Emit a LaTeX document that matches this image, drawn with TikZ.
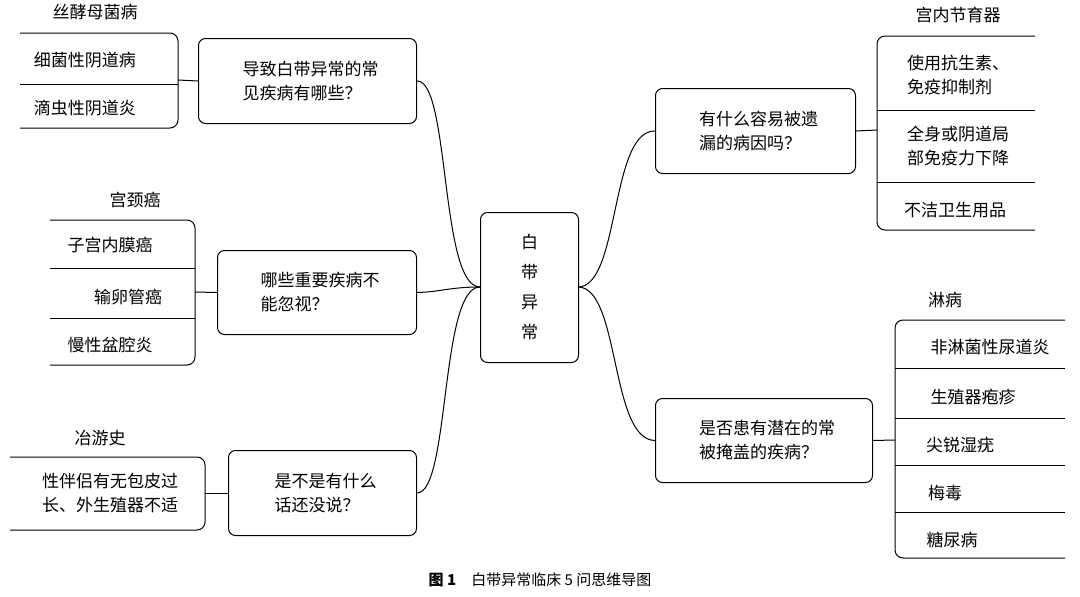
\documentclass[tikz,border=0pt]{standalone}
\usepackage{fontspec}
\setmainfont{Noto Sans CJK SC}
\begin{document}
\begin{tikzpicture}[x=1pt,y=-1pt,
 box/.style={draw,line width=1pt,rounded corners=7,align=left,font=\fontsize{17}{24}\selectfont,inner sep=0pt},
 leaf/.style={font=\fontsize{17}{24}\selectfont,align=left,inner sep=0pt},
 ln/.style={line width=1pt}]
\useasboundingbox (0,0) rectangle (1080,597);
% center
\node[box,minimum width=98,minimum height=150,align=center,anchor=north west] (c) at (480,212) {白\\[6pt]带\\[6pt]异\\[6pt]常};
% boxes
\node[box,minimum width=218,minimum height=85,anchor=north west] (b1) at (198,38) {\hspace{6pt}导致白带异常的常\\\hspace{6pt}见疾病有哪些？};
\node[box,minimum width=199,minimum height=84,anchor=north west] (b2) at (217,250) {\hspace{6pt}哪些重要疾病不\\\hspace{6pt}能忽视？};
\node[box,minimum width=188,minimum height=85,anchor=north west] (b3) at (228,450) {\hspace{6pt}是不是有什么\\\hspace{6pt}话还没说？};
\node[box,minimum width=200,minimum height=85,anchor=north west] (b4) at (655,88) {\hspace{6pt}有什么容易被遗\\\hspace{6pt}漏的病因吗？};
\node[box,minimum width=217,minimum height=84,anchor=north west] (b5) at (655,398) {\hspace{6pt}是否患有潜在的常\\\hspace{6pt}被掩盖的疾病？};
% main curves
\coordinate (cl) at (480,287); \coordinate (cr) at (578,287);
\draw[ln] (cl) .. controls (440,287) and (450,80) .. (b1.east);
\draw[ln] (cl) .. controls (450,287) and (440,292) .. (b2.east);
\draw[ln] (cl) .. controls (440,287) and (450,493) .. (b3.east);
\draw[ln] (cr) .. controls (620,287) and (610,130) .. (b4.west);
\draw[ln] (cr) .. controls (620,287) and (610,440) .. (b5.west);
% group 1
\node[leaf] (l11) at (95,12) {丝酵母菌病};
\node[leaf] (l12) at (85,60) {细菌性阴道病};
\node[leaf] (l13) at (85,108) {滴虫性阴道炎};
\coordinate (j1) at (178,80);
\draw[ln,rounded corners=8] (20,33) -- (178,33) -- (178,128) -- (20,128);
\draw[ln,rounded corners=8] (20,84) -- (178,84);
\draw[ln] (j1) -- (b1.west);
% group 2
\node[leaf] (l21) at (135,200) {宫颈癌};
\node[leaf] (l22) at (110,245) {子宫内膜癌};
\node[leaf] (l23) at (128,297) {输卵管癌};
\node[leaf] (l24) at (110,345) {慢性盆腔炎};
\coordinate (j2) at (195,292);
\draw[ln,rounded corners=8] (50,220) -- (195,220) -- (195,365) -- (50,365);
\draw[ln] (50,268) -- (195,268); \draw[ln] (50,318) -- (195,318);
\draw[ln] (j2) -- (b2.west);
% group 3
\node[leaf] (l31) at (100,438) {冶游史};
\node[leaf] (l32) at (110,493) {性伴侣有无包皮过\\长、外生殖器不适};
\coordinate (j3) at (205,493);
\draw[ln,rounded corners=8] (10,457) -- (205,457) -- (205,530) -- (10,530);
\draw[ln] (j3) -- (b3.west);
% group 4
\node[leaf] (l41) at (958,15) {宫内节育器};
\node[leaf] (l42) at (958,75) {使用抗生素、\\免疫抑制剂};
\node[leaf] (l43) at (958,146) {全身或阴道局\\部免疫力下降};
\node[leaf] (l44) at (955,210) {不洁卫生用品};
\coordinate (j4) at (877,130);
\draw[ln,rounded corners=8] (1035,36) -- (877,36) -- (877,230) -- (1035,230);
\draw[ln] (877,110) -- (1035,110); \draw[ln] (877,182) -- (1035,182);
\draw[ln] (b4.east) -- (j4);
% group 5
\node[leaf] (l51) at (945,300) {淋病};
\node[leaf] (l52) at (990,347) {非淋菌性尿道炎};
\node[leaf] (l53) at (973,397) {生殖器疱疹};
\node[leaf] (l54) at (960,445) {尖锐湿疣};
\node[leaf] (l55) at (945,493) {梅毒};
\node[leaf] (l56) at (952,540) {糖尿病};
\coordinate (j5) at (895,440);
\draw[ln,rounded corners=8] (1065,320) -- (895,320) -- (895,558) -- (1065,558);
\foreach \y in {368,418,465,512} \draw[ln] (895,\y) -- (1065,\y);
\draw[ln] (b5.east) -- (j5);
% caption
\node[font=\fontsize{15}{18}\selectfont] (cap) at (540,580) {\textbf{图 1}\quad 白带异常临床 5 问思维导图};
\end{tikzpicture}
\end{document}
